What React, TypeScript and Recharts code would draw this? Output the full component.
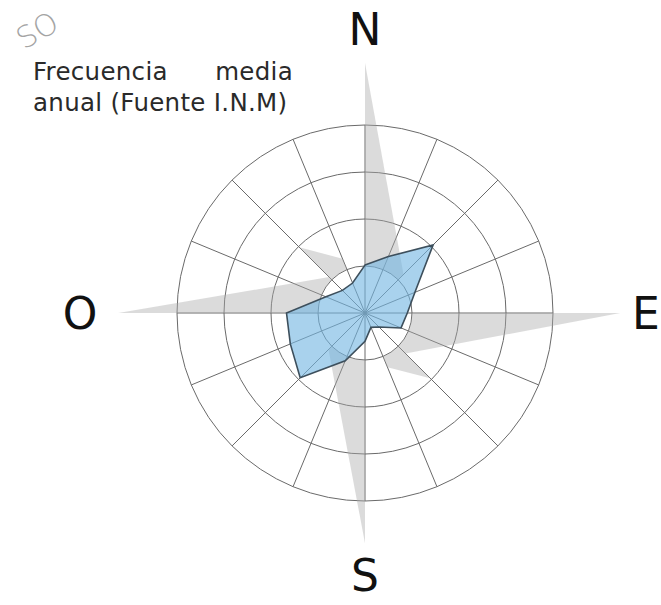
import React from "react";
import {
  PolarAngleAxis,
  PolarGrid,
  PolarRadiusAxis,
  Radar,
  RadarChart,
} from "recharts";

// 16 wind directions (Spanish: O = Oeste)
const directions = [
  "N", "NNE", "NE", "ENE", "E", "ESE", "SE", "SSE",
  "S", "SSO", "SO", "OSO", "O", "ONO", "NO", "NNO",
];

// frecuencia media anual, read in ring units (4 rings)
const frequency = [
  1.02, 1.3, 2.05, 1.15, 0.9, 0.83, 0.42, 0.33,
  0.6, 1.1, 1.95, 1.72, 1.67, 0.9, 0.68, 0.69,
];

// compass rose behind the chart: long cardinal arms + their side points
const roseArms = [
  5.32, 0, 1.16, 0, 5.43, 0, 1.22, 0,
  4.9, 0, 1.1, 0, 5.25, 0, 1.08, 0,
];

// short diagonal arms (only NO and SE show outside the polygon)
const roseDiagonals = [
  0, 0, 0, 0, 0, 0, 1.96, 1.25,
  0, 0, 0, 0, 0, 0, 1.98, 1.25,
];

const ringTicks = [0, 1, 2, 3, 4];
const cardinalLabels = ["N", "E", "S", "O"];
const labelDistance: Record<string, number> = { N: 284, E: 281, S: 262, O: 285 };

const data = directions.map((dir, i) => ({
  dir,
  frequency: frequency[i],
  arms: roseArms[i],
  diagonals: roseDiagonals[i],
}));

const W = 661;
const H = 605;
const CX = 365;
const CY = 313;
const R = 188;

const LABEL_FONT = "'DejaVu Sans', sans-serif";

// half-shaded arm: centre, tip, and the point `step` places clockwise
function roseShape(tips: number[], step: number, maskId: string) {
  return (props: any) => {
    const points = props.points || [];
    if (!points.length) return <g />;
    const cx = points[0].cx;
    const cy = points[0].cy;
    const ref = points.find((p: any) => p.value > 0);
    const ring1 = ref ? ref.radius / ref.value : 0;
    return (
      <g>
        <defs>
          <mask id={maskId} maskUnits="userSpaceOnUse" x={0} y={0} width={W} height={H}>
            <circle cx={cx} cy={cy} r={R * 3} fill="white" />
            <circle cx={cx} cy={cy} r={ring1} fill="black" />
          </mask>
        </defs>
        <g mask={`url(#${maskId})`}>
          {tips.map((i) => {
            const a = points[i];
            const b = points[(i + step) % points.length];
            return (
              <polygon
                key={i}
                points={`${cx},${cy} ${a.x},${a.y} ${b.x},${b.y}`}
                fill="#a9a9a9"
                fillOpacity={0.42}
                stroke="none"
              />
            );
          })}
        </g>
      </g>
    );
  };
}

function CardinalTick(props: any) {
  const name = props.payload?.value;
  if (!cardinalLabels.includes(name)) return <g />;
  const dx = props.x - CX;
  const dy = props.y - CY;
  const len = Math.hypot(dx, dy) || 1;
  const d = labelDistance[name];
  const x = CX + (dx / len) * d;
  const y = CY + (dy / len) * d;
  return (
    <text
      x={x}
      y={y + 16}
      textAnchor="middle"
      fontFamily={LABEL_FONT}
      fontSize={44}
      fill="#111"
    >
      {name}
    </text>
  );
}

export default function App() {
  return (
    <div style={{ position: "absolute", left: 0, top: 0, width: W, height: H, background: "#fff" }}>
      <RadarChart
        width={W}
        height={H}
        data={data}
        cx={CX}
        cy={CY}
        outerRadius={R}
        startAngle={90}
        endAngle={-270}
        margin={{ top: 0, right: 0, bottom: 0, left: 0 }}
      >
        <PolarGrid gridType="circle" stroke="#6a6a6a" strokeWidth={1} />
        <PolarAngleAxis
          dataKey="dir"
          tick={CardinalTick}
          tickLine={false}
          axisLine={false}
        />
        <PolarRadiusAxis
          domain={[0, 4]}
          ticks={ringTicks as any}
          tickCount={5}
          allowDataOverflow
          tick={false}
          axisLine={false}
        />
        <Radar
          dataKey="arms"
          shape={roseShape([0, 4, 8, 12], 2, "armsMask")}
          isAnimationActive={false}
        />
        <Radar
          dataKey="diagonals"
          shape={roseShape([6, 14], 1, "diagMask")}
          isAnimationActive={false}
        />
        <Radar
          dataKey="frequency"
          stroke="#3d4f5c"
          strokeWidth={1.6}
          fill="#74b6e2"
          fillOpacity={0.62}
          isAnimationActive={false}
        />
      </RadarChart>
      <svg
        width={W}
        height={H}
        style={{ position: "absolute", left: 0, top: 0, pointerEvents: "none" }}
      >
        <text
          x={24}
          y={50}
          transform="rotate(-30 24 50)"
          fontFamily={LABEL_FONT}
          fontWeight={200}
          fontSize={30}
          fill="#a4a4a4"
        >
          SO
        </text>
        <g fontFamily={LABEL_FONT} fontSize={24.5} letterSpacing={0.3} fill="#2a2a2a">
          <text x={33} y={80}>Frecuencia</text>
          <text x={293} y={80} textAnchor="end">media</text>
          <text x={33} y={111}>anual (Fuente I.N.M)</text>
        </g>
      </svg>
    </div>
  );
}
